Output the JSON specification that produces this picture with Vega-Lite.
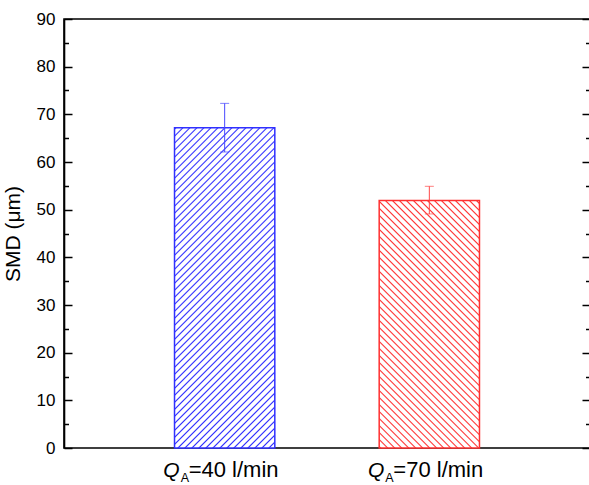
{
  "$schema": "https://vega.github.io/schema/vega-lite/v6.json",
  "autosize": "none",
  "padding": {"left": 64, "top": 19, "right": 0, "bottom": 37},
  "width": 526,
  "height": 429,
  "background": "white",
  "config": {
    "view": {"stroke": "black", "strokeWidth": 1.6},
    "axis": {"grid": false, "labelFont": "Liberation Sans", "titleFont": "Liberation Sans", "labelColor": "black", "titleColor": "black", "tickColor": "black", "domainColor": "black"}
  },
  "data": {"values": [
    {"group": "40", "smd": 67.2, "lo": 62.1, "hi": 72.3},
    {"group": "70", "smd": 51.9, "lo": 49.1, "hi": 54.9}
  ]},
  "resolve": {"axis": {"x": "independent", "y": "independent"}},
  "layer": [
    {
      "mark": {"type": "bar", "strokeWidth": 1.5},
      "encoding": {
        "x": {"field": "group", "type": "nominal", "sort": null,
          "scale": {"paddingInner": 0.51, "paddingOuter": 0.54},
          "axis": {"orient": "bottom", "title": null, "domain": false, "ticks": false, "labelAngle": 0,
            "labelExpr": "'Q'", "labelFontStyle": "italic", "labelFontSize": 21, "labelAlign": "right",
            "labelBaseline": "alphabetic", "labelPadding": 28.5, "labelOffset": -45}},
        "y": {"field": "smd", "type": "quantitative",
          "scale": {"domain": [0, 90], "nice": false},
          "axis": {"orient": "left", "values": [0,5,10,15,20,25,30,35,40,45,50,55,60,65,70,75,80,85,90],
            "labelExpr": "datum.value % 10 === 0 ? datum.label : ''",
            "tickSize": {"condition": {"test": "datum.value % 10 === 0", "value": -8}, "value": -4.5},
            "tickWidth": 1.5, "domainWidth": 1.6, "labelFontSize": 17, "labelPadding": 17,
            "title": "SMD (μm)", "titleFontSize": 21, "titleFontWeight": "normal", "titlePadding": 13}},
        "stroke": {"condition": {"test": "datum.group === '40'", "value": "#3030ff"}, "value": "#ff3030"},
        "fill": {"condition": {"test": "datum.group === '40'", "value": {"gradient": "linear", "x1": 0, "y1": 0, "x2": 0.3744, "y2": 1.1949, "stops": [
          {"offset":0,"color":"#fff"},{"offset":0.0035,"color":"#2a2aff"},{"offset":0.007,"color":"#fff"},
          {"offset":0.0167,"color":"#fff"},{"offset":0.0202,"color":"#2a2aff"},{"offset":0.0237,"color":"#fff"},
          {"offset":0.0333,"color":"#fff"},{"offset":0.0368,"color":"#2a2aff"},{"offset":0.0403,"color":"#fff"},
          {"offset":0.05,"color":"#fff"},{"offset":0.0535,"color":"#2a2aff"},{"offset":0.057,"color":"#fff"},
          {"offset":0.0667,"color":"#fff"},{"offset":0.0702,"color":"#2a2aff"},{"offset":0.0737,"color":"#fff"},
          {"offset":0.0833,"color":"#fff"},{"offset":0.0868,"color":"#2a2aff"},{"offset":0.0903,"color":"#fff"},
          {"offset":0.1,"color":"#fff"},{"offset":0.1035,"color":"#2a2aff"},{"offset":0.107,"color":"#fff"},
          {"offset":0.1167,"color":"#fff"},{"offset":0.1202,"color":"#2a2aff"},{"offset":0.1237,"color":"#fff"},
          {"offset":0.1333,"color":"#fff"},{"offset":0.1368,"color":"#2a2aff"},{"offset":0.1403,"color":"#fff"},
          {"offset":0.15,"color":"#fff"},{"offset":0.1535,"color":"#2a2aff"},{"offset":0.157,"color":"#fff"},
          {"offset":0.1667,"color":"#fff"},{"offset":0.1702,"color":"#2a2aff"},{"offset":0.1737,"color":"#fff"},
          {"offset":0.1833,"color":"#fff"},{"offset":0.1868,"color":"#2a2aff"},{"offset":0.1903,"color":"#fff"},
          {"offset":0.2,"color":"#fff"},{"offset":0.2035,"color":"#2a2aff"},{"offset":0.207,"color":"#fff"},
          {"offset":0.2167,"color":"#fff"},{"offset":0.2202,"color":"#2a2aff"},{"offset":0.2237,"color":"#fff"},
          {"offset":0.2333,"color":"#fff"},{"offset":0.2368,"color":"#2a2aff"},{"offset":0.2403,"color":"#fff"},
          {"offset":0.25,"color":"#fff"},{"offset":0.2535,"color":"#2a2aff"},{"offset":0.257,"color":"#fff"},
          {"offset":0.2667,"color":"#fff"},{"offset":0.2702,"color":"#2a2aff"},{"offset":0.2737,"color":"#fff"},
          {"offset":0.2833,"color":"#fff"},{"offset":0.2868,"color":"#2a2aff"},{"offset":0.2903,"color":"#fff"},
          {"offset":0.3,"color":"#fff"},{"offset":0.3035,"color":"#2a2aff"},{"offset":0.307,"color":"#fff"},
          {"offset":0.3167,"color":"#fff"},{"offset":0.3202,"color":"#2a2aff"},{"offset":0.3237,"color":"#fff"},
          {"offset":0.3333,"color":"#fff"},{"offset":0.3368,"color":"#2a2aff"},{"offset":0.3403,"color":"#fff"},
          {"offset":0.35,"color":"#fff"},{"offset":0.3535,"color":"#2a2aff"},{"offset":0.357,"color":"#fff"},
          {"offset":0.3667,"color":"#fff"},{"offset":0.3702,"color":"#2a2aff"},{"offset":0.3737,"color":"#fff"},
          {"offset":0.3833,"color":"#fff"},{"offset":0.3868,"color":"#2a2aff"},{"offset":0.3903,"color":"#fff"},
          {"offset":0.4,"color":"#fff"},{"offset":0.4035,"color":"#2a2aff"},{"offset":0.407,"color":"#fff"},
          {"offset":0.4167,"color":"#fff"},{"offset":0.4202,"color":"#2a2aff"},{"offset":0.4237,"color":"#fff"},
          {"offset":0.4333,"color":"#fff"},{"offset":0.4368,"color":"#2a2aff"},{"offset":0.4403,"color":"#fff"},
          {"offset":0.45,"color":"#fff"},{"offset":0.4535,"color":"#2a2aff"},{"offset":0.457,"color":"#fff"},
          {"offset":0.4667,"color":"#fff"},{"offset":0.4702,"color":"#2a2aff"},{"offset":0.4737,"color":"#fff"},
          {"offset":0.4833,"color":"#fff"},{"offset":0.4868,"color":"#2a2aff"},{"offset":0.4903,"color":"#fff"},
          {"offset":0.5,"color":"#fff"},{"offset":0.5035,"color":"#2a2aff"},{"offset":0.507,"color":"#fff"},
          {"offset":0.5167,"color":"#fff"},{"offset":0.5202,"color":"#2a2aff"},{"offset":0.5237,"color":"#fff"},
          {"offset":0.5333,"color":"#fff"},{"offset":0.5368,"color":"#2a2aff"},{"offset":0.5403,"color":"#fff"},
          {"offset":0.55,"color":"#fff"},{"offset":0.5535,"color":"#2a2aff"},{"offset":0.557,"color":"#fff"},
          {"offset":0.5667,"color":"#fff"},{"offset":0.5702,"color":"#2a2aff"},{"offset":0.5737,"color":"#fff"},
          {"offset":0.5833,"color":"#fff"},{"offset":0.5868,"color":"#2a2aff"},{"offset":0.5903,"color":"#fff"},
          {"offset":0.6,"color":"#fff"},{"offset":0.6035,"color":"#2a2aff"},{"offset":0.607,"color":"#fff"},
          {"offset":0.6167,"color":"#fff"},{"offset":0.6202,"color":"#2a2aff"},{"offset":0.6237,"color":"#fff"},
          {"offset":0.6333,"color":"#fff"},{"offset":0.6368,"color":"#2a2aff"},{"offset":0.6403,"color":"#fff"},
          {"offset":0.65,"color":"#fff"},{"offset":0.6535,"color":"#2a2aff"},{"offset":0.657,"color":"#fff"},
          {"offset":0.6667,"color":"#fff"},{"offset":0.6702,"color":"#2a2aff"},{"offset":0.6737,"color":"#fff"},
          {"offset":0.6833,"color":"#fff"},{"offset":0.6868,"color":"#2a2aff"},{"offset":0.6903,"color":"#fff"},
          {"offset":0.7,"color":"#fff"},{"offset":0.7035,"color":"#2a2aff"},{"offset":0.707,"color":"#fff"},
          {"offset":0.7167,"color":"#fff"},{"offset":0.7202,"color":"#2a2aff"},{"offset":0.7237,"color":"#fff"},
          {"offset":0.7333,"color":"#fff"},{"offset":0.7368,"color":"#2a2aff"},{"offset":0.7403,"color":"#fff"},
          {"offset":0.75,"color":"#fff"},{"offset":0.7535,"color":"#2a2aff"},{"offset":0.757,"color":"#fff"},
          {"offset":0.7667,"color":"#fff"},{"offset":0.7702,"color":"#2a2aff"},{"offset":0.7737,"color":"#fff"},
          {"offset":0.7833,"color":"#fff"},{"offset":0.7868,"color":"#2a2aff"},{"offset":0.7903,"color":"#fff"},
          {"offset":0.8,"color":"#fff"},{"offset":0.8035,"color":"#2a2aff"},{"offset":0.807,"color":"#fff"},
          {"offset":0.8167,"color":"#fff"},{"offset":0.8202,"color":"#2a2aff"},{"offset":0.8237,"color":"#fff"},
          {"offset":0.8333,"color":"#fff"},{"offset":0.8368,"color":"#2a2aff"},{"offset":0.8403,"color":"#fff"},
          {"offset":0.85,"color":"#fff"},{"offset":0.8535,"color":"#2a2aff"},{"offset":0.857,"color":"#fff"},
          {"offset":0.8667,"color":"#fff"},{"offset":0.8702,"color":"#2a2aff"},{"offset":0.8737,"color":"#fff"},
          {"offset":0.8833,"color":"#fff"},{"offset":0.8868,"color":"#2a2aff"},{"offset":0.8903,"color":"#fff"},
          {"offset":0.9,"color":"#fff"},{"offset":0.9035,"color":"#2a2aff"},{"offset":0.907,"color":"#fff"},
          {"offset":0.9167,"color":"#fff"},{"offset":0.9202,"color":"#2a2aff"},{"offset":0.9237,"color":"#fff"},
          {"offset":0.9333,"color":"#fff"},{"offset":0.9368,"color":"#2a2aff"},{"offset":0.9403,"color":"#fff"},
          {"offset":0.95,"color":"#fff"},{"offset":0.9535,"color":"#2a2aff"},{"offset":0.957,"color":"#fff"},
          {"offset":0.9667,"color":"#fff"},{"offset":0.9702,"color":"#2a2aff"},{"offset":0.9737,"color":"#fff"},
          {"offset":0.9833,"color":"#fff"},{"offset":0.9868,"color":"#2a2aff"},{"offset":0.9903,"color":"#fff"},
          {"offset":1,"color":"#fff"}
        ]}}, "value": {"gradient": "linear", "x1": 0, "y1": 1, "x2": 0.592, "y2": -0.459, "stops": [
          {"offset":0,"color":"#fff"},{"offset":0.0035,"color":"#ff2a2a"},{"offset":0.007,"color":"#fff"},
          {"offset":0.0167,"color":"#fff"},{"offset":0.0202,"color":"#ff2a2a"},{"offset":0.0237,"color":"#fff"},
          {"offset":0.0333,"color":"#fff"},{"offset":0.0368,"color":"#ff2a2a"},{"offset":0.0403,"color":"#fff"},
          {"offset":0.05,"color":"#fff"},{"offset":0.0535,"color":"#ff2a2a"},{"offset":0.057,"color":"#fff"},
          {"offset":0.0667,"color":"#fff"},{"offset":0.0702,"color":"#ff2a2a"},{"offset":0.0737,"color":"#fff"},
          {"offset":0.0833,"color":"#fff"},{"offset":0.0868,"color":"#ff2a2a"},{"offset":0.0903,"color":"#fff"},
          {"offset":0.1,"color":"#fff"},{"offset":0.1035,"color":"#ff2a2a"},{"offset":0.107,"color":"#fff"},
          {"offset":0.1167,"color":"#fff"},{"offset":0.1202,"color":"#ff2a2a"},{"offset":0.1237,"color":"#fff"},
          {"offset":0.1333,"color":"#fff"},{"offset":0.1368,"color":"#ff2a2a"},{"offset":0.1403,"color":"#fff"},
          {"offset":0.15,"color":"#fff"},{"offset":0.1535,"color":"#ff2a2a"},{"offset":0.157,"color":"#fff"},
          {"offset":0.1667,"color":"#fff"},{"offset":0.1702,"color":"#ff2a2a"},{"offset":0.1737,"color":"#fff"},
          {"offset":0.1833,"color":"#fff"},{"offset":0.1868,"color":"#ff2a2a"},{"offset":0.1903,"color":"#fff"},
          {"offset":0.2,"color":"#fff"},{"offset":0.2035,"color":"#ff2a2a"},{"offset":0.207,"color":"#fff"},
          {"offset":0.2167,"color":"#fff"},{"offset":0.2202,"color":"#ff2a2a"},{"offset":0.2237,"color":"#fff"},
          {"offset":0.2333,"color":"#fff"},{"offset":0.2368,"color":"#ff2a2a"},{"offset":0.2403,"color":"#fff"},
          {"offset":0.25,"color":"#fff"},{"offset":0.2535,"color":"#ff2a2a"},{"offset":0.257,"color":"#fff"},
          {"offset":0.2667,"color":"#fff"},{"offset":0.2702,"color":"#ff2a2a"},{"offset":0.2737,"color":"#fff"},
          {"offset":0.2833,"color":"#fff"},{"offset":0.2868,"color":"#ff2a2a"},{"offset":0.2903,"color":"#fff"},
          {"offset":0.3,"color":"#fff"},{"offset":0.3035,"color":"#ff2a2a"},{"offset":0.307,"color":"#fff"},
          {"offset":0.3167,"color":"#fff"},{"offset":0.3202,"color":"#ff2a2a"},{"offset":0.3237,"color":"#fff"},
          {"offset":0.3333,"color":"#fff"},{"offset":0.3368,"color":"#ff2a2a"},{"offset":0.3403,"color":"#fff"},
          {"offset":0.35,"color":"#fff"},{"offset":0.3535,"color":"#ff2a2a"},{"offset":0.357,"color":"#fff"},
          {"offset":0.3667,"color":"#fff"},{"offset":0.3702,"color":"#ff2a2a"},{"offset":0.3737,"color":"#fff"},
          {"offset":0.3833,"color":"#fff"},{"offset":0.3868,"color":"#ff2a2a"},{"offset":0.3903,"color":"#fff"},
          {"offset":0.4,"color":"#fff"},{"offset":0.4035,"color":"#ff2a2a"},{"offset":0.407,"color":"#fff"},
          {"offset":0.4167,"color":"#fff"},{"offset":0.4202,"color":"#ff2a2a"},{"offset":0.4237,"color":"#fff"},
          {"offset":0.4333,"color":"#fff"},{"offset":0.4368,"color":"#ff2a2a"},{"offset":0.4403,"color":"#fff"},
          {"offset":0.45,"color":"#fff"},{"offset":0.4535,"color":"#ff2a2a"},{"offset":0.457,"color":"#fff"},
          {"offset":0.4667,"color":"#fff"},{"offset":0.4702,"color":"#ff2a2a"},{"offset":0.4737,"color":"#fff"},
          {"offset":0.4833,"color":"#fff"},{"offset":0.4868,"color":"#ff2a2a"},{"offset":0.4903,"color":"#fff"},
          {"offset":0.5,"color":"#fff"},{"offset":0.5035,"color":"#ff2a2a"},{"offset":0.507,"color":"#fff"},
          {"offset":0.5167,"color":"#fff"},{"offset":0.5202,"color":"#ff2a2a"},{"offset":0.5237,"color":"#fff"},
          {"offset":0.5333,"color":"#fff"},{"offset":0.5368,"color":"#ff2a2a"},{"offset":0.5403,"color":"#fff"},
          {"offset":0.55,"color":"#fff"},{"offset":0.5535,"color":"#ff2a2a"},{"offset":0.557,"color":"#fff"},
          {"offset":0.5667,"color":"#fff"},{"offset":0.5702,"color":"#ff2a2a"},{"offset":0.5737,"color":"#fff"},
          {"offset":0.5833,"color":"#fff"},{"offset":0.5868,"color":"#ff2a2a"},{"offset":0.5903,"color":"#fff"},
          {"offset":0.6,"color":"#fff"},{"offset":0.6035,"color":"#ff2a2a"},{"offset":0.607,"color":"#fff"},
          {"offset":0.6167,"color":"#fff"},{"offset":0.6202,"color":"#ff2a2a"},{"offset":0.6237,"color":"#fff"},
          {"offset":0.6333,"color":"#fff"},{"offset":0.6368,"color":"#ff2a2a"},{"offset":0.6403,"color":"#fff"},
          {"offset":0.65,"color":"#fff"},{"offset":0.6535,"color":"#ff2a2a"},{"offset":0.657,"color":"#fff"},
          {"offset":0.6667,"color":"#fff"},{"offset":0.6702,"color":"#ff2a2a"},{"offset":0.6737,"color":"#fff"},
          {"offset":0.6833,"color":"#fff"},{"offset":0.6868,"color":"#ff2a2a"},{"offset":0.6903,"color":"#fff"},
          {"offset":0.7,"color":"#fff"},{"offset":0.7035,"color":"#ff2a2a"},{"offset":0.707,"color":"#fff"},
          {"offset":0.7167,"color":"#fff"},{"offset":0.7202,"color":"#ff2a2a"},{"offset":0.7237,"color":"#fff"},
          {"offset":0.7333,"color":"#fff"},{"offset":0.7368,"color":"#ff2a2a"},{"offset":0.7403,"color":"#fff"},
          {"offset":0.75,"color":"#fff"},{"offset":0.7535,"color":"#ff2a2a"},{"offset":0.757,"color":"#fff"},
          {"offset":0.7667,"color":"#fff"},{"offset":0.7702,"color":"#ff2a2a"},{"offset":0.7737,"color":"#fff"},
          {"offset":0.7833,"color":"#fff"},{"offset":0.7868,"color":"#ff2a2a"},{"offset":0.7903,"color":"#fff"},
          {"offset":0.8,"color":"#fff"},{"offset":0.8035,"color":"#ff2a2a"},{"offset":0.807,"color":"#fff"},
          {"offset":0.8167,"color":"#fff"},{"offset":0.8202,"color":"#ff2a2a"},{"offset":0.8237,"color":"#fff"},
          {"offset":0.8333,"color":"#fff"},{"offset":0.8368,"color":"#ff2a2a"},{"offset":0.8403,"color":"#fff"},
          {"offset":0.85,"color":"#fff"},{"offset":0.8535,"color":"#ff2a2a"},{"offset":0.857,"color":"#fff"},
          {"offset":0.8667,"color":"#fff"},{"offset":0.8702,"color":"#ff2a2a"},{"offset":0.8737,"color":"#fff"},
          {"offset":0.8833,"color":"#fff"},{"offset":0.8868,"color":"#ff2a2a"},{"offset":0.8903,"color":"#fff"},
          {"offset":0.9,"color":"#fff"},{"offset":0.9035,"color":"#ff2a2a"},{"offset":0.907,"color":"#fff"},
          {"offset":0.9167,"color":"#fff"},{"offset":0.9202,"color":"#ff2a2a"},{"offset":0.9237,"color":"#fff"},
          {"offset":0.9333,"color":"#fff"},{"offset":0.9368,"color":"#ff2a2a"},{"offset":0.9403,"color":"#fff"},
          {"offset":0.95,"color":"#fff"},{"offset":0.9535,"color":"#ff2a2a"},{"offset":0.957,"color":"#fff"},
          {"offset":0.9667,"color":"#fff"},{"offset":0.9702,"color":"#ff2a2a"},{"offset":0.9737,"color":"#fff"},
          {"offset":0.9833,"color":"#fff"},{"offset":0.9868,"color":"#ff2a2a"},{"offset":0.9903,"color":"#fff"},
          {"offset":1,"color":"#fff"}
        ]}}
      }
    },
    {
      "mark": {"type": "rule", "strokeWidth": 1},
      "encoding": {
        "x": {"field": "group", "type": "nominal", "sort": null,
          "axis": {"orient": "bottom", "title": null, "domain": false, "ticks": false, "labelAngle": 0,
            "labelExpr": "'A'", "labelFontSize": 12.5, "labelAlign": "left",
            "labelBaseline": "alphabetic", "labelPadding": 33.5, "labelOffset": -44}},
        "y": {"field": "lo", "type": "quantitative",
          "axis": {"orient": "right", "values": [0,5,10,15,20,25,30,35,40,45,50,55,60,65,70,75,80,85,90],
            "labels": false, "domain": false, "title": null,
            "tickSize": {"condition": {"test": "datum.value % 10 === 0", "value": -8}, "value": -4.5},
            "tickWidth": 1.5}},
        "y2": {"field": "hi"},
        "stroke": {"condition": {"test": "datum.group === '40'", "value": "#4848ff"}, "value": "#ff4848"}
      }
    },
    {
      "mark": {"type": "tick", "orient": "horizontal", "size": 9, "thickness": 1},
      "encoding": {
        "x": {"field": "group", "type": "nominal", "sort": null,
          "axis": {"orient": "bottom", "title": null, "domain": false, "ticks": false, "labelAngle": 0,
            "labelExpr": "'=' + datum.label + ' l/min'", "labelFontSize": 22, "labelAlign": "left",
            "labelBaseline": "alphabetic", "labelPadding": 28.5, "labelOffset": -36}},
        "y": {"field": "hi", "type": "quantitative", "axis": null},
        "color": {"condition": {"test": "datum.group === '40'", "value": "#4848ff"}, "value": "#ff4848"}
      }
    },
    {
      "mark": {"type": "tick", "orient": "horizontal", "size": 9, "thickness": 1},
      "encoding": {
        "x": {"field": "group", "type": "nominal", "sort": null, "axis": null},
        "y": {"field": "lo", "type": "quantitative", "axis": null},
        "color": {"condition": {"test": "datum.group === '40'", "value": "#4848ff"}, "value": "#ff4848"}
      }
    }
  ]
}
